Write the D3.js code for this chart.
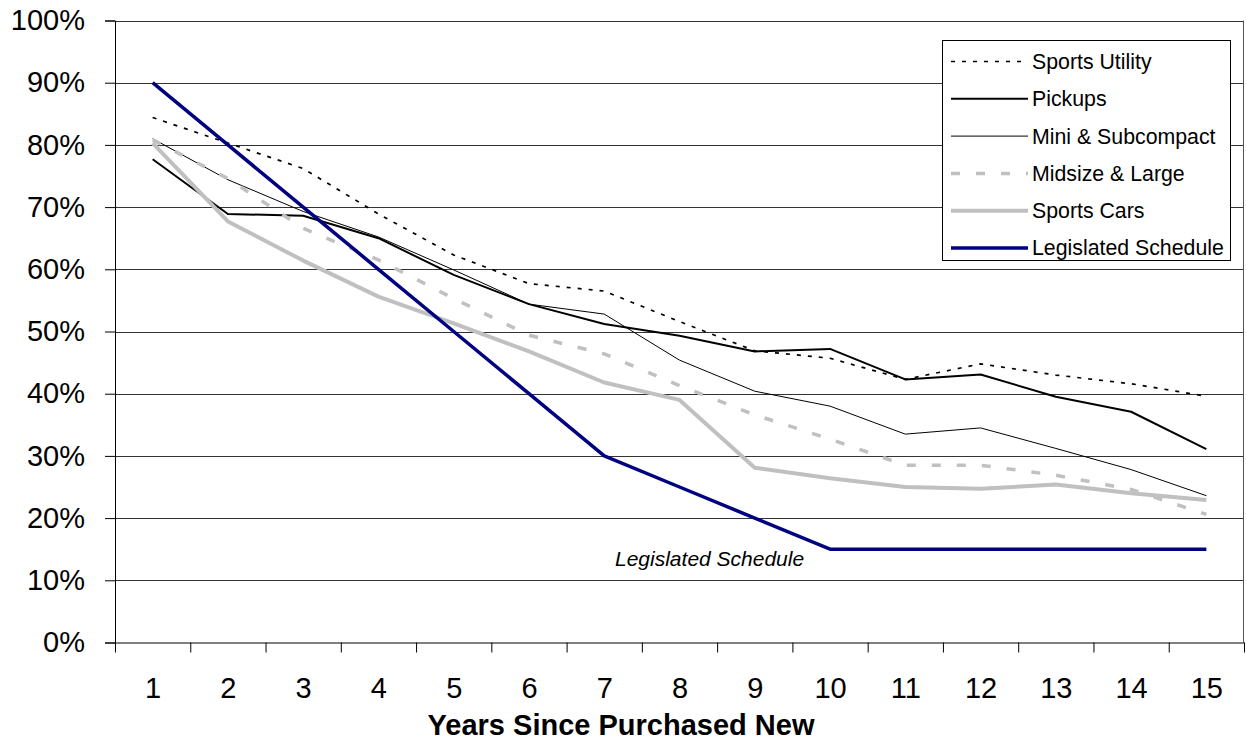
<!DOCTYPE html>
<html>
<head>
<meta charset="utf-8">
<script src="https://cdn.jsdelivr.net/npm/d3@7"></script>
<style>
  html, body { margin: 0; padding: 0; background: #fff; }
  svg { display: block; font-family: "Liberation Sans", Arial, Helvetica, sans-serif; }
</style>
</head>
<body>
<svg id="chart" width="1246" height="749"></svg>
<script>
// Share of original value retained, by years since purchased new
const years = [1, 2, 3, 4, 5, 6, 7, 8, 9, 10, 11, 12, 13, 14, 15];
const yTicks = [0, 0.1, 0.2, 0.3, 0.4, 0.5, 0.6, 0.7, 0.8, 0.9, 1.0];

const sportsUtility = [84.4, 80.3, 76.2, 68.9, 62.3, 57.7, 56.5, 51.6, 46.9, 45.7, 42.3, 44.8, 43.0, 41.6, 39.6];
const pickups       = [77.7, 68.9, 68.6, 65.0, 59.1, 54.4, 51.2, 49.3, 46.8, 47.2, 42.3, 43.1, 39.5, 37.1, 31.1];
const miniSubcompact = [81.0, 74.4, 69.3, 65.2, 59.9, 54.4, 52.8, 45.4, 40.4, 38.0, 33.5, 34.5, 31.2, 27.8, 23.6];
const midsizeLarge  = [80.8, 74.6, 66.6, 61.5, 55.3, 49.4, 46.4, 41.3, 36.6, 32.7, 28.5, 28.5, 26.9, 24.6, 20.6];
const sportsCars    = [80.3, 67.7, 61.4, 55.6, 51.3, 46.8, 41.8, 39.0, 28.1, 26.4, 25.0, 24.7, 25.4, 24.0, 22.9];
const legislated    = [90, 80, 70, 60, 50, 40, 30, 25, 20, 15, 15, 15, 15, 15, 15];

const seriesNames = ["Sports Utility", "Pickups", "Mini & Subcompact", "Midsize & Large", "Sports Cars", "Legislated Schedule"];
const xTitle = "Years Since Purchased New";
const scheduleNote = "Legislated Schedule";

const series = [
  { name: seriesNames[0], values: sportsUtility,  color: "#000000", width: 1.7, dash: "4,7" },
  { name: seriesNames[1], values: pickups,        color: "#000000", width: 2,   dash: null },
  { name: seriesNames[2], values: miniSubcompact, color: "#000000", width: 1,   dash: null },
  { name: seriesNames[3], values: midsizeLarge,   color: "#c0c0c0", width: 3.5, dash: "9,16" },
  { name: seriesNames[4], values: sportsCars,     color: "#c0c0c0", width: 4,   dash: null },
  { name: seriesNames[5], values: legislated,     color: "#000080", width: 3.5, dash: null }
];

const svg = d3.select("#chart");
const plot = { left: 115, right: 1244, top: 20.5, bottom: 642.5 };

const x = d3.scaleLinear().domain([0.5, 15.5]).range([plot.left, plot.right]);
const y = d3.scaleLinear().domain([0, 1]).range([plot.bottom, plot.top]);

// horizontal gridlines
svg.append("g")
  .selectAll("line")
  .data(yTicks.filter(d => d > 0))
  .join("line")
  .attr("x1", plot.left).attr("x2", plot.right)
  .attr("y1", d => Math.round(y(d)) + 0.5).attr("y2", d => Math.round(y(d)) + 0.5)
  .attr("stroke", "#333").attr("stroke-width", 1);

// right border of the plot area
svg.append("line")
  .attr("x1", plot.right - 0.5).attr("x2", plot.right - 0.5)
  .attr("y1", plot.top).attr("y2", plot.bottom)
  .attr("stroke", "#555").attr("stroke-width", 1);

// y axis
const yAxis = svg.append("g")
  .attr("transform", `translate(${plot.left},0)`)
  .call(d3.axisLeft(y).tickValues(yTicks).tickFormat(d3.format(".0%")).tickSize(10).tickPadding(20));
yAxis.selectAll("text").attr("font-size", 29).attr("fill", "#000");
yAxis.selectAll("line,path").attr("stroke", "#000");

// x axis: ticks between categories
const xTicks = svg.append("g")
  .attr("transform", `translate(0,${plot.bottom})`)
  .call(d3.axisBottom(x).tickValues(years.map(d => d - 0.5).concat([15.5])).tickFormat("").tickSize(10).tickSizeOuter(0));
xTicks.selectAll("line,path").attr("stroke", "#000");

// x axis: category labels
const xLabels = svg.append("g")
  .attr("transform", `translate(0,${plot.bottom})`)
  .call(d3.axisBottom(x).tickValues(years).tickFormat(d3.format("d")).tickSize(0).tickPadding(35));
xLabels.select(".domain").remove();
xLabels.selectAll("text").attr("font-size", 29).attr("fill", "#000");

// axis title
svg.append("text")
  .attr("x", 621).attr("y", 735)
  .attr("text-anchor", "middle")
  .attr("font-size", 29).attr("font-weight", "bold")
  .text(xTitle);

// series lines
const line = d3.line()
  .x((d, i) => x(years[i]))
  .y(d => y(d / 100));

svg.append("g")
  .selectAll("path")
  .data(series)
  .join("path")
  .attr("d", d => line(d.values))
  .attr("fill", "none")
  .attr("stroke", d => d.color)
  .attr("stroke-width", d => d.width)
  .attr("stroke-dasharray", d => d.dash)
  .attr("stroke-linejoin", "round");

// note beside the legislated schedule
svg.append("text")
  .attr("x", 615).attr("y", 566)
  .attr("font-size", 21).attr("font-style", "italic")
  .text(scheduleNote);

// legend
const legend = svg.append("g");
legend.append("rect")
  .attr("x", 942.5).attr("y", 40.5).attr("width", 288).attr("height", 220)
  .attr("fill", "#fff").attr("stroke", "#000").attr("stroke-width", 1);

const rowY = d3.scaleLinear().domain([0, 5]).range([61.5, 248]);
const items = legend.selectAll("g.item")
  .data(series)
  .join("g")
  .attr("class", "item")
  .attr("transform", (d, i) => `translate(0,${rowY(i)})`);

items.append("line")
  .attr("x1", 951).attr("x2", 1028)
  .attr("stroke", d => d.color)
  .attr("stroke-width", d => d.width)
  .attr("stroke-dasharray", d => d.dash);

items.append("text")
  .attr("x", 1032).attr("dy", "0.35em")
  .attr("font-size", 21.3)
  .text(d => d.name);
</script>
</body>
</html>
